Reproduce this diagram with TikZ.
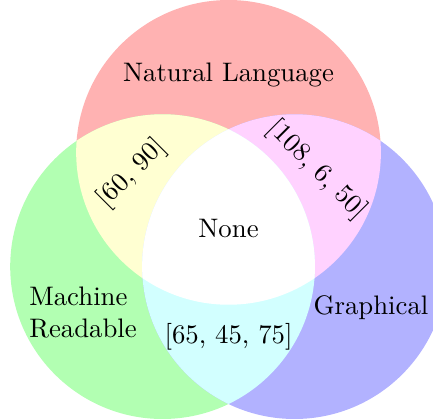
\documentclass[tikz,border=0pt]{standalone}
\begin{document}
\begin{tikzpicture}
\definecolor{nlred}{RGB}{255,178,178}
\definecolor{mrgreen}{RGB}{178,255,178}
\definecolor{grblue}{RGB}{178,178,255}
\definecolor{rgyel}{RGB}{255,255,210}
\definecolor{rbmag}{RGB}{255,210,255}
\definecolor{gbcya}{RGB}{210,255,255}
\tikzset{lbl/.style={font=\normalsize, inner sep=1pt}}
\useasboundingbox (-3,-2.5) rectangle (2.684,3);
\def\circA{(90:1) circle (2)}
\def\circB{(210:1) circle (2)}
\def\circC{(330:1) circle (2)}
\fill[nlred] \circA;
\fill[mrgreen] \circB;
\fill[grblue] \circC;
\begin{scope}\clip \circA; \fill[rgyel] \circB; \end{scope}
\begin{scope}\clip \circA; \fill[rbmag] \circC; \end{scope}
\begin{scope}\clip \circB; \fill[gbcya] \circC; \end{scope}
\begin{scope}\clip \circA; \clip \circB; \fill[white] \circC; \end{scope}
\node[lbl] (nl) at (0,2.015) {Natural Language};
\node[lbl, align=left] (mr) at (-1.91,-1.1) {Machine\\Readable};
\node[lbl] (gr) at (1.87,-1.04) {Graphical};
\node[lbl] (none) at (0,0) {None};
\node[lbl, rotate=45] (ab) at (-1.27,0.725) {[60, 90]};
\node[lbl, rotate=-45] (ac) at (1.16,0.77) {[108, 6, 50]};
\node[lbl] (bc) at (0,-1.42) {[65, 45, 75]};
\end{tikzpicture}
\end{document}
